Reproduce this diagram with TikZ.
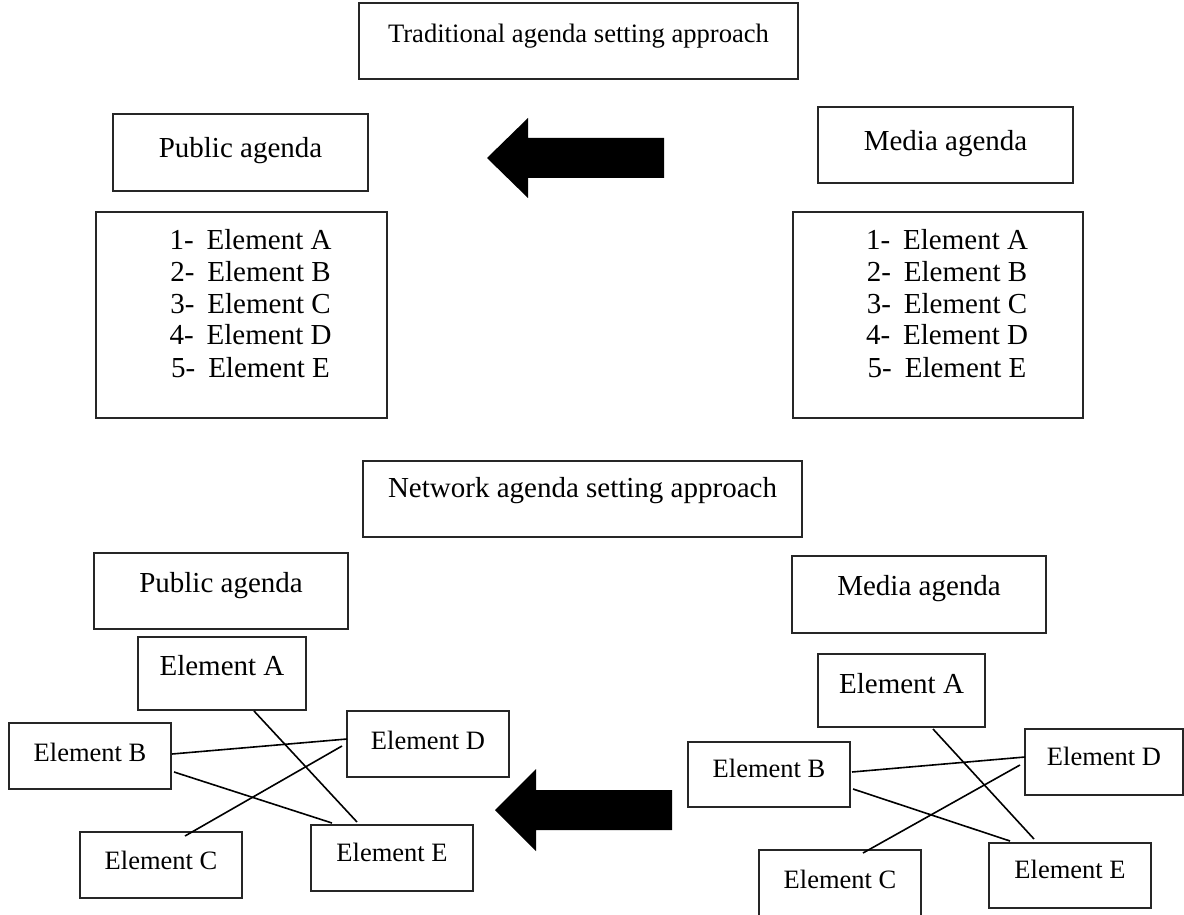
\documentclass[tikz,border=0pt]{standalone}
\usepackage{fontspec}
\setmainfont{Liberation Serif}
\usetikzlibrary{calc}
\begin{document}
\begin{tikzpicture}[x=1pt,y=-1pt,
  bx/.style={draw=black!85, line width=1.3pt, inner sep=0pt, outer sep=0pt, anchor=north,
             font=\fontsize{29}{32}\selectfont},
  small/.style={font=\fontsize{26.5}{30}\selectfont},
  link/.style={line width=1.6pt, black},
  bigarrow/.style={fill=black}]
\useasboundingbox (0,0) rectangle (1184,915);

% ---------- traditional approach ----------
\node[bx, font=\fontsize{26.6}{30}\selectfont, minimum width=439pt, text height=40pt, text depth=36pt]
  (title) at (578.5,3) {Traditional agenda setting approach};
\node[bx, minimum width=255pt, text height=44pt, text depth=33pt] (pubT) at (240.5,114) {Public agenda};
\node[bx, minimum width=255pt, text height=44pt, text depth=32pt] (medT) at (945.5,107) {Media agenda};

\node[bx, minimum width=291pt, text height=37pt, text depth=169pt] (listL) at (241.5,212)
  {\begin{tabular}[t]{@{\hspace{18pt}}c@{}}
   1-\hspace{13pt}Element A\\ 2-\hspace{13pt}Element B\\ 3-\hspace{13pt}Element C\\
   4-\hspace{13pt}Element D\\ 5-\hspace{13pt}Element E\end{tabular}};
\node[bx, minimum width=290pt, text height=37pt, text depth=169pt] (listR) at (938,212)
  {\begin{tabular}[t]{@{\hspace{18pt}}c@{}}
   1-\hspace{13pt}Element A\\ 2-\hspace{13pt}Element B\\ 3-\hspace{13pt}Element C\\
   4-\hspace{13pt}Element D\\ 5-\hspace{13pt}Element E\end{tabular}};

\fill[bigarrow] (487,158) -- (528,118) -- (528,138) -- (664,138) -- (664,178) -- (528,178) -- (528,198) -- cycle;

% ---------- network approach ----------
\node[bx, minimum width=439pt, text height=36pt, text depth=40pt] (netT) at (582.5,461) {Network agenda setting approach};
\node[bx, minimum width=254pt, text height=39pt, text depth=37pt] (pubB) at (221,553) {Public agenda};
\node[bx, minimum width=254pt, text height=39pt, text depth=38pt] (medB) at (919,556) {Media agenda};

% left network (public)
\node[bx, minimum width=168pt, text height=38pt, text depth=35pt] (LA) at (222,637) {Element A};
\node[bx, small, minimum width=162pt, text height=38pt, text depth=28pt] (LB) at (90,723) {Element B};
\node[bx, small, minimum width=162pt, text height=38pt, text depth=28pt] (LD) at (428,711) {Element D};
\node[bx, small, minimum width=162pt, text height=37pt, text depth=29pt] (LC) at (161,832) {Element C};
\node[bx, small, minimum width=162pt, text height=36pt, text depth=30pt] (LE) at (392,825) {Element E};

\draw[link] ($(LA.south)+(32,1)$) -- ($(LE.north)+(-35,-3)$);
\draw[link] ($(LB.east)+(1,-2)$) -- ($(LD.west)+(0,-5)$);
\draw[link] ($(LB.east)+(3,16)$) -- ($(LE.north)+(-60,-2)$);
\draw[link] ($(LC.north)+(24,4)$) -- ($(LD.west)+(-5,2)$);

% right network (media)
\node[bx, minimum width=167pt, text height=39pt, text depth=34pt] (RA) at (901.5,654) {Element A};
\node[bx, small, minimum width=162pt, text height=35pt, text depth=30pt] (RB) at (769,742) {Element B};
\node[bx, small, minimum width=158pt, text height=36pt, text depth=30pt] (RD) at (1104,729) {Element D};
\node[bx, small, minimum width=162pt, text height=38pt, text depth=32pt] (RC) at (840,850) {Element C};
\node[bx, small, minimum width=162pt, text height=35pt, text depth=30pt] (RE) at (1070,843) {Element E};

\draw[link] ($(RA.south)+(31.5,2)$) -- ($(RE.north)+(-36,-4)$);
\draw[link] ($(RB.east)+(2,-2.5)$) -- ($(RD.west)+(0,-5)$);
\draw[link] ($(RB.east)+(3,14.5)$) -- ($(RE.north)+(-60,-2)$);
\draw[link] ($(RC.north)+(23,3)$) -- ($(RD.west)+(-5,3)$);

\fill[bigarrow] (495,810) -- (536,769) -- (536,790) -- (672,790) -- (672,830) -- (536,830) -- (536,851) -- cycle;
\end{tikzpicture}
\end{document}
